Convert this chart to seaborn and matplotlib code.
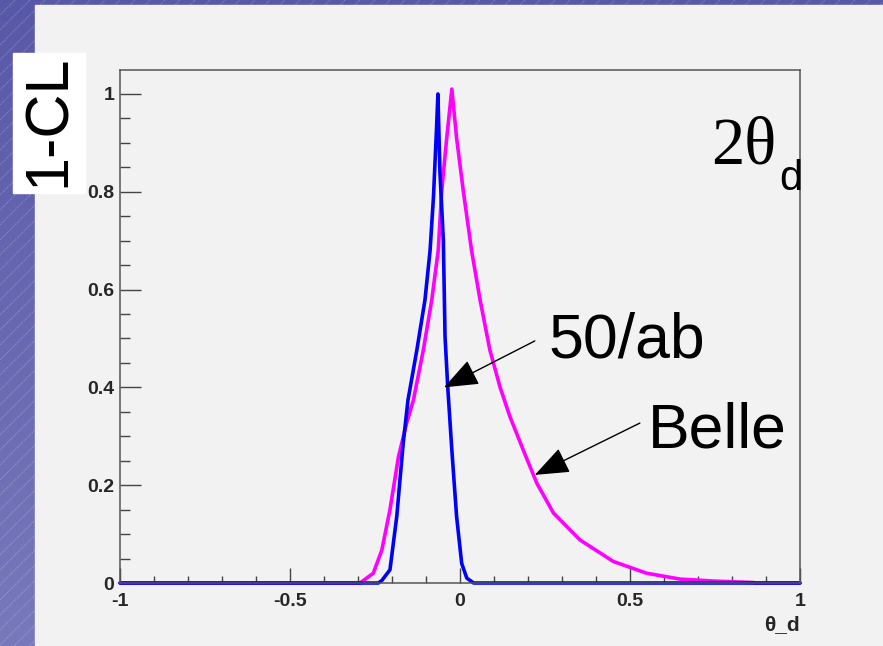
import numpy as np
import pandas as pd
import seaborn as sns
import matplotlib
matplotlib.use("Agg")
import matplotlib.pyplot as plt
from matplotlib.lines import Line2D
from matplotlib.patches import Rectangle
from matplotlib.ticker import MultipleLocator
from matplotlib.colors import LinearSegmentedColormap

# ---- data ----
theta_50ab = [-1.0, -0.24, -0.23, -0.206, -0.186, -0.167, -0.153, -0.127, -0.103, -0.088,
              -0.078, -0.069, -0.065, -0.059, -0.049, -0.044, -0.036, -0.024, -0.010,
              0.005, 0.02, 0.04, 1.0]
cl_50ab = [0.0, 0.0, 0.005, 0.027, 0.136, 0.286, 0.374, 0.476, 0.579, 0.68,
           0.79, 0.93, 1.0, 0.84, 0.70, 0.504, 0.40, 0.272, 0.136,
           0.04, 0.01, 0.0, 0.0]

theta_belle = [-1.0, -0.294, -0.255, -0.23, -0.206, -0.181, -0.157, -0.137, -0.108, -0.083,
               -0.064, -0.054, -0.039, -0.024, -0.010, 0.010, 0.034, 0.059, 0.088, 0.118,
               0.147, 0.186, 0.226, 0.275, 0.353, 0.451, 0.549, 0.647, 0.745, 0.862, 0.87, 1.0]
cl_belle = [0.0, 0.0, 0.02, 0.067, 0.15, 0.258, 0.327, 0.374, 0.476, 0.579,
            0.68, 0.80, 0.91, 1.01, 0.91, 0.80, 0.68, 0.579, 0.476, 0.40,
            0.34, 0.272, 0.204, 0.143, 0.088, 0.044, 0.02, 0.008, 0.004, 0.001, 0.0, 0.0]

x_ticks = [-1, -0.5, 0, 0.5, 1]
x_ticklabels = ["-1", "-0.5", "0", "0.5", "1"]
y_ticks = [0, 0.2, 0.4, 0.6, 0.8, 1.0]
y_ticklabels = ["0", "0.2", "0.4", "0.6", "0.8", "1"]

df_50 = pd.DataFrame({"theta": theta_50ab, "cl": cl_50ab})
df_belle = pd.DataFrame({"theta": theta_belle, "cl": cl_belle})

# ---- figure ----
W, H = 883, 646
sns.set_theme(style="white")
plt.rcParams["font.family"] = ["Liberation Sans", "DejaVu Sans"]
fig = plt.figure(figsize=(W / 100, H / 100), dpi=100)

# slide background (decoration)
bg = fig.add_axes([0, 0, 1, 1], zorder=-10)
grad = np.linspace(0, 1, 256).reshape(-1, 1)
cmap = LinearSegmentedColormap.from_list("slide", ["#5858a8", "#7878bc"])
bg.imshow(grad, aspect="auto", cmap=cmap, extent=[0, W, H, 0])
bg.set_xlim(0, W)
bg.set_ylim(H, 0)
for k in range(-H, W, 15):
    bg.add_line(Line2D([k, k + H], [H, 0], color="white", alpha=0.3, lw=0.7, ls=(0, (1, 1))))
bg.add_patch(Rectangle((35, 5), W - 35, H - 5, color="#f2f2f2", zorder=5))
bg.add_patch(Rectangle((13, 53), 72, 140, color="white", zorder=6))
bg.axis("off")

def px(x, y):
    return x / W, 1 - y / H

fig.text(*px(49, 121), "1-CL", rotation=90, fontsize=44, ha="center", va="center",
         color="black", zorder=10)

# main axes
l, r, t, b = 120, 800, 70, 583
ax = fig.add_axes([l / W, 1 - b / H, (r - l) / W, (b - t) / H])
ax.set_facecolor("#f2f2f2")

sns.lineplot(data=df_belle, x="theta", y="cl", ax=ax, color="#ff00ff", lw=2.6,
             sort=False, estimator=None, clip_on=False)
sns.lineplot(data=df_50, x="theta", y="cl", ax=ax, color="#0000ff", lw=2.6,
             sort=False, estimator=None, clip_on=False)

ax.set_xlim(-1, 1)
ax.set_ylim(0, 1.049)
ax.set_xticks(x_ticks)
ax.set_xticklabels(x_ticklabels)
ax.set_yticks(y_ticks)
ax.set_yticklabels(y_ticklabels)
ax.xaxis.set_minor_locator(MultipleLocator(0.1))
ax.yaxis.set_minor_locator(MultipleLocator(0.05))
for lab in ax.get_xticklabels() + ax.get_yticklabels():
    lab.set_fontweight("bold")
ax.tick_params(axis="x", which="major", direction="in", length=10.8, width=1.0,
               color="#444444", labelsize=14, pad=7, top=False, bottom=True)
ax.tick_params(axis="x", which="minor", direction="in", length=5, width=1.0,
               color="#444444", bottom=True)
ax.tick_params(axis="y", which="major", direction="in", length=15, width=1.0,
               color="#444444", labelsize=14, pad=4, left=True)
ax.tick_params(axis="y", which="minor", direction="in", length=7.2, width=1.0,
               color="#444444", left=True)
for s in ax.spines.values():
    s.set_color("#555555")
    s.set_linewidth(1.1)
    s.set_visible(True)
ax.set_ylabel("")
ax.set_xlabel("θ_d", loc="right", fontsize=15, fontweight="bold", labelpad=4)

# annotations
arrow_kw = dict(arrowstyle="-|>,head_length=1.08,head_width=0.42", mutation_scale=20,
                lw=1.0, color="black", shrinkA=0, shrinkB=0)
ax.annotate("", xy=(-0.047, 0.40), xytext=(0.22, 0.495), arrowprops=arrow_kw,
            annotation_clip=False)
ax.annotate("", xy=(0.22, 0.221), xytext=(0.529, 0.327), arrowprops=arrow_kw,
            annotation_clip=False)

fig.text(*px(548, 358), "50/ab", fontsize=45, ha="left", va="baseline", color="black")
fig.text(*px(648, 447), "Belle", fontsize=45, ha="left", va="baseline", color="black")
fig.text(*px(711, 163), "2θ", fontsize=48, ha="left", va="baseline", color="black",
         family=["Liberation Serif", "DejaVu Serif"])
fig.text(*px(779, 190), "d", fontsize=30, ha="left", va="baseline", color="black")

fig.savefig("out.png", dpi=100)
